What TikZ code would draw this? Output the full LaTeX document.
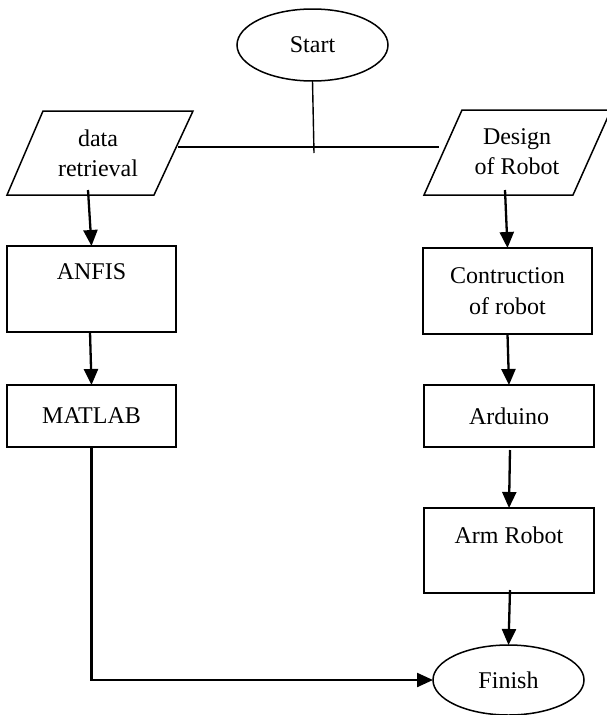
\documentclass[tikz,border=0pt]{standalone}
\usepackage{fontspec}
\setmainfont{Liberation Serif}
\usetikzlibrary{shapes.geometric,arrows.meta}
\begin{document}
\begin{tikzpicture}[x=1pt,y=-1pt,
  every node/.style={font=\fontsize{24}{30.5}\selectfont},
  termbox/.style={ellipse,draw,line width=1.5pt,inner sep=0pt,outer sep=0pt,minimum width=151pt},
  ioshape/.style={draw,line width=1.5pt,line join=miter},
  procbox/.style={rectangle,draw,line width=1.5pt,inner sep=0pt,outer sep=0pt,align=center},
  txt/.style={inner sep=0pt,align=center},
  link/.style={line width=1.4pt},
  arr/.style={line width=2.3pt,-{Triangle[width=14pt,length=16pt]}}
]
\useasboundingbox (0,0) rectangle (606,715);
% terminals
\node[termbox,minimum height=72pt] (start) at (312.5,45) {Start};
\node[termbox,minimum height=70pt] (finish) at (508.5,680) {Finish};
% input/output parallelograms
\draw[ioshape] (7,195) -- (43,111) -- (193,111) -- (154,195) -- cycle;
\node[txt] (dr) at (98,153.5) {data\\retrieval};
\draw[ioshape] (424,195) -- (462,110) -- (611,110) -- (573,195) -- cycle;
\node[txt] (dor) at (517,151.5) {Design\\of Robot};
% process boxes
\node[procbox,minimum width=169pt,minimum height=86pt] (anfis) at (91.5,289) {};
\node[txt] (anfistxt) at (91.5,272) {ANFIS};
\node[procbox,minimum width=169pt,minimum height=62pt] (matlab) at (91.5,416) {MATLAB};
\node[procbox,minimum width=169pt,minimum height=86pt] (contr) at (507.5,291) {Contruction\\of robot};
\node[procbox,minimum width=170pt,minimum height=62pt] (arduino) at (509,416) {Arduino};
\node[procbox,minimum width=170pt,minimum height=85pt] (arm) at (509,550.5) {};
\node[txt] (armtxt) at (509,535) {Arm Robot};
% junction lines
\coordinate (jb) at (314,153);
\coordinate (hl) at (178,147);
\coordinate (hr) at (439,147);
\draw[link] (start.south) -- (jb);
\draw[link] (hl) -- (hr);
% arrows
\coordinate (s1) at (88,190);
\coordinate (s2) at (505,190);
\coordinate (s3) at (510,590);
\draw[arr] (s1) -- (anfis.north);
\draw[arr] ([xshift=-1.5pt]anfis.south) -- (matlab.north);
\draw[arr] (matlab.south) |- (finish.west);
\draw[arr] (s2) -- (contr.north);
\draw[arr] (contr.south) -- (arduino.north);
\draw[arr] ([xshift=1pt,yshift=-3pt]arduino.south) -- (arm.north);
\draw[arr] (s3) -- (finish.north);
\end{tikzpicture}
\end{document}
